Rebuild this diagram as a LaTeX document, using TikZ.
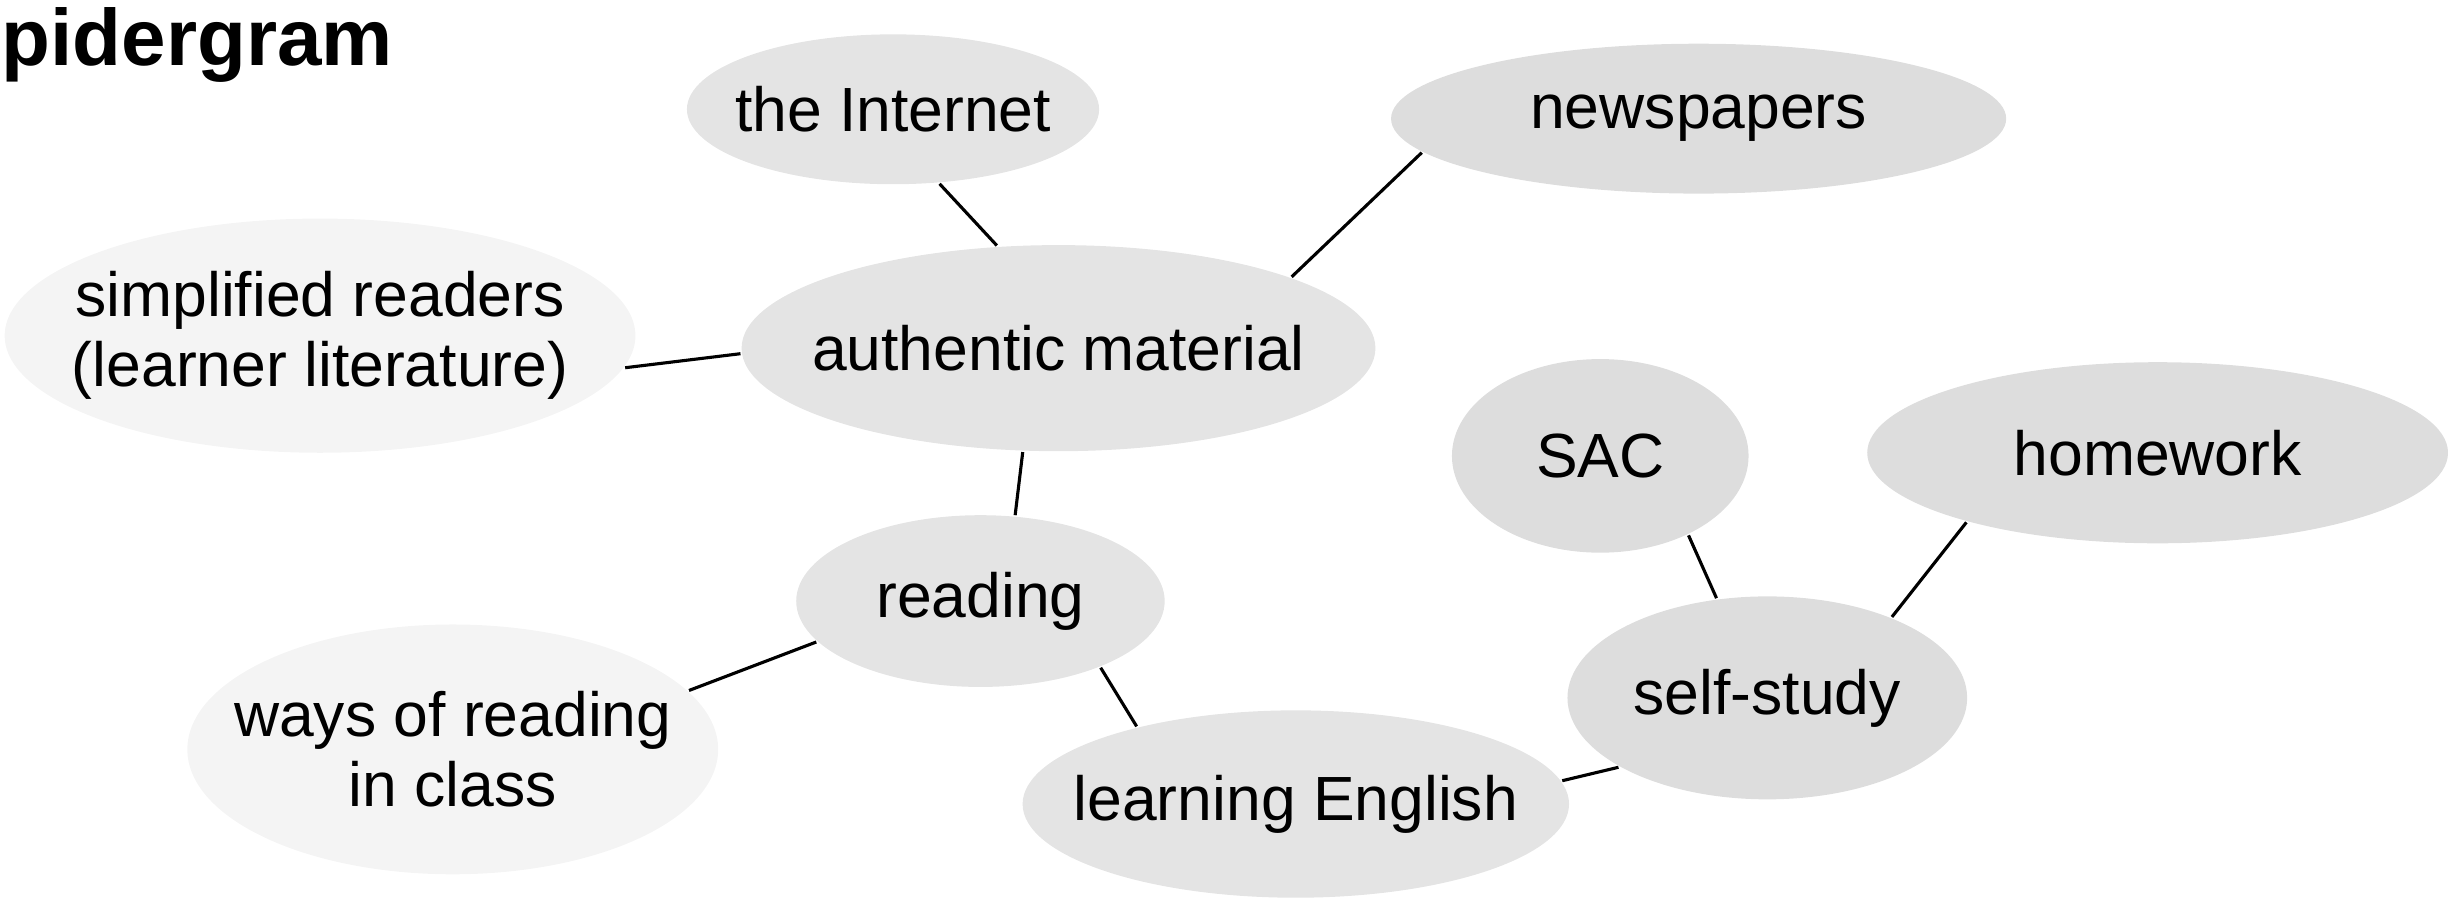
\documentclass[tikz,border=0pt]{standalone}
\usepackage{fontspec}
\setmainfont{Liberation Sans}
\usetikzlibrary{shapes.geometric}

\tikzset{every picture/.style={line width=0.8pt}}
\tikzset{
  blob/.style={ellipse, draw=none, inner sep=0pt},
  dense/.style={fill=gray!27},
  mid/.style={fill=gray!21},
  light/.style={fill=gray!9},
  hand/.style={font=\fontsize{16}{18}\selectfont, align=center, inner sep=0pt},
  link/.style={draw=black, line width=0.8pt}
}

\begin{document}
\begin{tikzpicture}[x=0.4pt,y=0.4pt,yscale=-1,xscale=1]
\useasboundingbox (0,0) rectangle (1568,579);

% Title
\node [anchor=base west, inner sep=0pt, font=\fontsize{20.5}{24}\selectfont\bfseries] (title) at (0,42) {pidergram};

%Shape: Ellipse (top row)
\node [blob, mid, minimum width=105.6pt, minimum height=38.4pt, label={[hand]center:the Internet}] (inet) at (572,70) {};
\node [blob, dense, minimum width=157.6pt, minimum height=38.4pt, label={[hand]center:newspapers}] (news) at (1088,76) {};

%Shape: Ellipse (middle row)
\node [blob, light, minimum width=161.6pt, minimum height=60pt, label={[hand]center:simplified readers\\(learner literature)}] (simp) at (205,215) {};
\node [blob, mid, minimum width=162.4pt, minimum height=52.8pt, label={[hand]center:authentic material}] (auth) at (678,223) {};
\node [blob, dense, minimum width=76pt, minimum height=49.6pt, label={[hand]center:SAC}] (sac) at (1025,292) {};
\node [blob, dense, minimum width=148.8pt, minimum height=46.4pt, label={[hand]center:homework}] (hw) at (1382,290) {};

%Shape: Ellipse (bottom row)
\node [blob, mid, minimum width=94.4pt, minimum height=44pt, label={[hand]center:reading}] (read) at (628,385) {};
\node [blob, dense, minimum width=102.4pt, minimum height=52pt, label={[hand]center:self-study}] (self) at (1132,447) {};
\node [blob, light, minimum width=136pt, minimum height=64pt, label={[hand]center:ways of reading\\in class}] (ways) at (290,480) {};
\node [blob, mid, minimum width=140pt, minimum height=48pt, label={[hand]center:learning English}] (learn) at (830,515) {};

%Straight Lines
\draw [link] (inet.-58) -- (auth.121);
\draw [link] (news.187) -- (auth.17);
\draw [link] (simp.-6) -- (auth.181);
\draw [link] (auth.251) -- (read.68);
\draw [link] (read.194) -- (ways.14);
\draw [link] (read.-29) -- (learn.154);
\draw [link] (learn.5) -- (self.205);
\draw [link] (sac.-42) -- (self.117);
\draw [link] (hw.200) -- (self.33);

\end{tikzpicture}
\end{document}
